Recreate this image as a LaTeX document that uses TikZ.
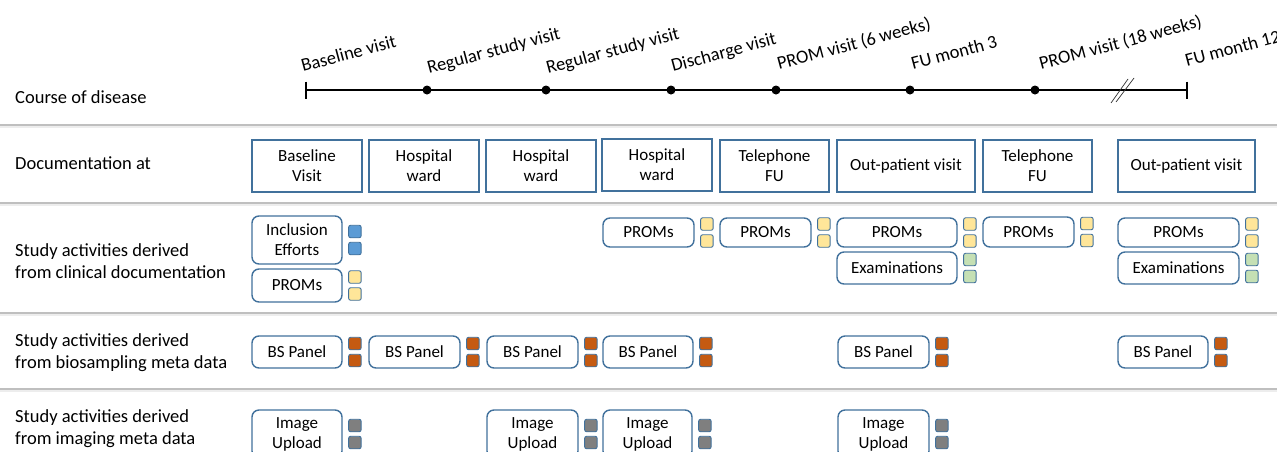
\documentclass[tikz,border=0pt]{standalone}
\usepackage{fontspec}
\setmainfont{Carlito}
\definecolor{boxblue}{HTML}{41719C}
\definecolor{sqblue}{HTML}{5B9BD5}
\definecolor{sqyellow}{HTML}{FFE699}
\definecolor{sqgreen}{HTML}{C5E0B4}
\definecolor{sqorange}{HTML}{C55A11}
\definecolor{sqgrey}{HTML}{7F7F7F}
\definecolor{rulegrey}{HTML}{BFBFBF}

% framed box given by its left/right/top/bottom edges
\newcommand\docnode[6]{%
  \node[docbox, minimum width={#3-#2}, minimum height={#5-#4}] (#1)
    at ({(#2+#3)/2},{(#4+#5)/2}) {#6};}
% rounded activity box with its pair of coloured markers
\newcommand\activity[7]{%
  \node[actbox, minimum width={#3-#2}, minimum height={#5-#4}] (#1)
    at ({(#2+#3)/2},{(#4+#5)/2}) {#6};
  \node[sq, fill=#7, anchor=west] (#1a) at ([xshift=5.5pt,yshift=8.5pt]#1.east) {};
  \node[sq, fill=#7, anchor=west] (#1b) at ([xshift=5.5pt,yshift=-8.5pt]#1.east) {};}

\begin{document}
\begin{tikzpicture}[x=1pt,y=-1pt,
  docbox/.style={draw=boxblue, line width=1.4pt, inner sep=0pt, align=center,
    font=\fontsize{17}{20}\selectfont},
  actbox/.style={docbox, rounded corners=7pt},
  sq/.style={draw=boxblue, line width=0.9pt, rounded corners=2pt,
    minimum width=12.5pt, minimum height=12.5pt, inner sep=0pt},
  rowlabel/.style={anchor=west, align=left, inner sep=0pt,
    font=\fontsize{18.5}{22}\selectfont},
  tlabel/.style={anchor=base west, rotate=15, inner sep=0pt,
    font=\fontsize{18.5}{22}\selectfont},
  dot/.style={circle, fill=black, inner sep=0pt, minimum size=9pt},
  tline/.style={line width=1.5pt},
  rulerow/.style={rulegrey, line width=1.3pt},
  ruleshade/.style={black!7, line width=2pt}]
\clip (0,0) rectangle (1277,451);
\fill[white] (0,0) rectangle (1277,451);

% row separators
\foreach \y in {125,203,313,389}{
  \draw[ruleshade] (0,\y+1.8) -- (1277,\y+1.8);
  \draw[rulerow] (0,\y) -- (1277,\y);}

% row labels
\node[rowlabel, anchor=base west] (lcourse) at (15,103) {Course of disease};
\node[rowlabel, anchor=base west] (ldoc) at (15,169) {Documentation at};
\node[rowlabel] (lclin) at (15,261) {Study activities derived\\from clinical documentation};
\node[rowlabel] (lbio) at (15,353) {Study activities derived\\from biosampling meta data};
\node[rowlabel] (limg) at (15,429) {Study activities derived\\from imaging meta data};

% course of disease timeline
\coordinate (t0) at (306,90);
\node[dot] (t1) at (427,90) {};
\node[dot] (t2) at (546,90) {};
\node[dot] (t3) at (671,90) {};
\node[dot] (t4) at (776,90) {};
\node[dot] (t5) at (910,90) {};
\node[dot] (t6) at (1035,90) {};
\coordinate (t8) at (1187,90);
\draw[tline] (t0) -- (t8);
\draw[tline] ([yshift=8.5pt]t0) -- ([yshift=-8.5pt]t0);
\draw[tline] ([yshift=8.5pt]t8) -- ([yshift=-8.5pt]t8);
% interruption mark
\draw[line width=0.7pt, black!80] (1111,103) -- (1128,79);
\draw[line width=0.7pt, black!80] (1116,102) -- (1134,78);

\node[tlabel] (n0) at (303,72) {Baseline visit};
\node[tlabel] (n1) at (429,74) {Regular study visit};
\node[tlabel] (n2) at (548,74) {Regular study visit};
\node[tlabel] (n3) at (673,72) {Discharge visit};
\node[tlabel] (n4) at (779,70) {PROM visit (6 weeks)};
\node[tlabel] (n5) at (913,70) {FU month 3};
\node[tlabel] (n6) at (1041,70) {PROM visit (18 weeks)};
\node[tlabel] (n8) at (1187,67) {FU month 12};

% documentation boxes
\docnode{d1}{252}{362}{140}{192}{Baseline\\Visit}
\docnode{d2}{369}{479}{140}{192}{Hospital\\ward}
\docnode{d3}{486}{596}{140}{192}{Hospital\\ward}
\docnode{d4}{602}{712}{139}{191}{Hospital\\ward}
\docnode{d5}{720}{829}{140}{192}{Telephone\\FU}
\docnode{d6}{837}{975}{140}{192}{Out-patient visit}
\docnode{d7}{983}{1092}{140}{192}{Telephone\\FU}
\docnode{d8}{1118}{1255}{140}{192}{Out-patient visit}

% activities from clinical documentation
\activity{c1}{252}{342}{216}{264}{Inclusion\\Efforts}{sqblue}
\activity{c2}{252}{342}{269}{302}{PROMs}{sqyellow}
\activity{c3}{603}{694}{218}{247}{PROMs}{sqyellow}
\activity{c4}{720}{811}{218}{247}{PROMs}{sqyellow}
\activity{c5}{837}{957}{218}{247}{PROMs}{sqyellow}
\activity{c6}{837}{957}{252}{284}{Examinations}{sqgreen}
\activity{c7}{983}{1074}{217}{247}{PROMs}{sqyellow}
\activity{c8}{1118}{1239}{218}{247}{PROMs}{sqyellow}
\activity{c9}{1118}{1239}{252}{284}{Examinations}{sqgreen}

% activities from biosampling meta data
\activity{b1}{252}{342}{336}{368}{BS Panel}{sqorange}
\activity{b2}{369}{460}{336}{368}{BS Panel}{sqorange}
\activity{b3}{487}{578}{336}{368}{BS Panel}{sqorange}
\activity{b4}{603}{693}{336}{368}{BS Panel}{sqorange}
\activity{b5}{838}{929}{336}{368}{BS Panel}{sqorange}
\activity{b6}{1118}{1208}{336}{368}{BS Panel}{sqorange}

% activities from imaging meta data
\activity{i1}{252}{342}{410}{458}{Image\\Upload}{sqgrey}
\activity{i2}{487}{578}{410}{458}{Image\\Upload}{sqgrey}
\activity{i3}{603}{692}{410}{458}{Image\\Upload}{sqgrey}
\activity{i4}{838}{929}{410}{458}{Image\\Upload}{sqgrey}
\end{tikzpicture}
\end{document}
